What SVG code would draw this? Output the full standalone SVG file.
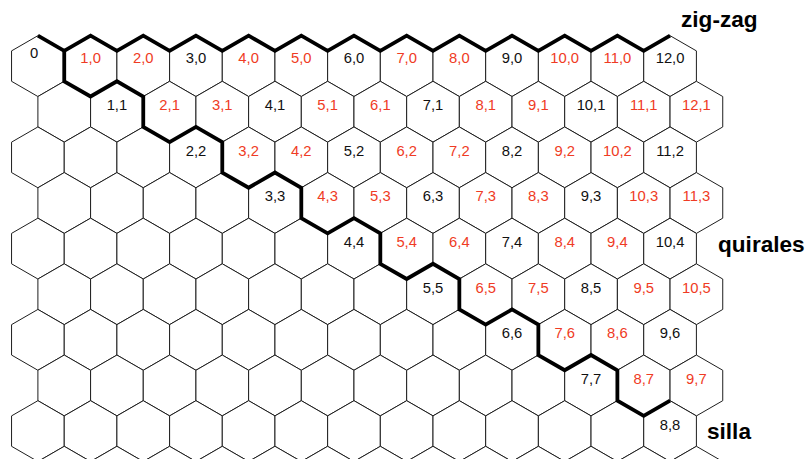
<svg xmlns="http://www.w3.org/2000/svg" xmlns:xlink="http://www.w3.org/1999/xlink" width="807" height="459" viewBox="0 0 807 459">
<style>
.hx{fill:#fff;stroke:#1e1e1e;stroke-width:1}
text{font-family:"Liberation Sans",Arial,sans-serif;font-size:14.8px;text-anchor:middle}
.k{fill:#111}
.r{fill:#ef3b24}
.t{font-size:22.6px;font-weight:bold;text-anchor:start;fill:#000}
.thick{fill:none;stroke:#000;stroke-width:3.8;stroke-linejoin:miter;stroke-linecap:butt}
</style>
<defs>
<polygon id="hx" class="hx" points="0,-30.42 26.34,-15.21 26.34,15.21 0,30.42 -26.34,15.21 -26.34,-15.21"/>
</defs>
<rect width="807" height="459" fill="#fff"/>
<g id="row0">
<g id="n0_0" transform="translate(37.9,66.1)"><use href="#hx"/><text class="k" x="-3.9" y="-7.8">0</text></g>
<g id="n1_0" transform="translate(90.58,66.1)"><use href="#hx"/><text class="r" y="-3">1,0</text></g>
<g id="n2_0" transform="translate(143.26,66.1)"><use href="#hx"/><text class="r" y="-3">2,0</text></g>
<g id="n3_0" transform="translate(195.94,66.1)"><use href="#hx"/><text class="k" y="-3">3,0</text></g>
<g id="n4_0" transform="translate(248.62,66.1)"><use href="#hx"/><text class="r" y="-3">4,0</text></g>
<g id="n5_0" transform="translate(301.3,66.1)"><use href="#hx"/><text class="r" y="-3">5,0</text></g>
<g id="n6_0" transform="translate(353.98,66.1)"><use href="#hx"/><text class="k" y="-3">6,0</text></g>
<g id="n7_0" transform="translate(406.66,66.1)"><use href="#hx"/><text class="r" y="-3">7,0</text></g>
<g id="n8_0" transform="translate(459.34,66.1)"><use href="#hx"/><text class="r" y="-3">8,0</text></g>
<g id="n9_0" transform="translate(512.02,66.1)"><use href="#hx"/><text class="k" y="-3">9,0</text></g>
<g id="n10_0" transform="translate(564.7,66.1)"><use href="#hx"/><text class="r" y="-3">10,0</text></g>
<g id="n11_0" transform="translate(617.38,66.1)"><use href="#hx"/><text class="r" y="-3">11,0</text></g>
<g id="n12_0" transform="translate(670.06,66.1)"><use href="#hx"/><text class="k" y="-3">12,0</text></g>
</g>
<g id="row1">
<g id="h1_0" transform="translate(64.24,111.73)"><use href="#hx"/></g>
<g id="n1_1" transform="translate(116.92,111.73)"><use href="#hx"/><text class="k" y="-1.5">1,1</text></g>
<g id="n2_1" transform="translate(169.6,111.73)"><use href="#hx"/><text class="r" y="-1.5">2,1</text></g>
<g id="n3_1" transform="translate(222.28,111.73)"><use href="#hx"/><text class="r" y="-1.5">3,1</text></g>
<g id="n4_1" transform="translate(274.96,111.73)"><use href="#hx"/><text class="k" y="-1.5">4,1</text></g>
<g id="n5_1" transform="translate(327.64,111.73)"><use href="#hx"/><text class="r" y="-1.5">5,1</text></g>
<g id="n6_1" transform="translate(380.32,111.73)"><use href="#hx"/><text class="r" y="-1.5">6,1</text></g>
<g id="n7_1" transform="translate(433,111.73)"><use href="#hx"/><text class="k" y="-1.5">7,1</text></g>
<g id="n8_1" transform="translate(485.68,111.73)"><use href="#hx"/><text class="r" y="-1.5">8,1</text></g>
<g id="n9_1" transform="translate(538.36,111.73)"><use href="#hx"/><text class="r" y="-1.5">9,1</text></g>
<g id="n10_1" transform="translate(591.04,111.73)"><use href="#hx"/><text class="k" y="-1.5">10,1</text></g>
<g id="n11_1" transform="translate(643.72,111.73)"><use href="#hx"/><text class="r" y="-1.5">11,1</text></g>
<g id="n12_1" transform="translate(696.4,111.73)"><use href="#hx"/><text class="r" y="-1.5">12,1</text></g>
</g>
<g id="row2">
<g id="h2_0" transform="translate(37.9,157.35)"><use href="#hx"/></g>
<g id="h2_1" transform="translate(90.58,157.35)"><use href="#hx"/></g>
<g id="h2_2" transform="translate(143.26,157.35)"><use href="#hx"/></g>
<g id="n2_2" transform="translate(195.94,157.35)"><use href="#hx"/><text class="k" y="-1.5">2,2</text></g>
<g id="n3_2" transform="translate(248.62,157.35)"><use href="#hx"/><text class="r" y="-1.5">3,2</text></g>
<g id="n4_2" transform="translate(301.3,157.35)"><use href="#hx"/><text class="r" y="-1.5">4,2</text></g>
<g id="n5_2" transform="translate(353.98,157.35)"><use href="#hx"/><text class="k" y="-1.5">5,2</text></g>
<g id="n6_2" transform="translate(406.66,157.35)"><use href="#hx"/><text class="r" y="-1.5">6,2</text></g>
<g id="n7_2" transform="translate(459.34,157.35)"><use href="#hx"/><text class="r" y="-1.5">7,2</text></g>
<g id="n8_2" transform="translate(512.02,157.35)"><use href="#hx"/><text class="k" y="-1.5">8,2</text></g>
<g id="n9_2" transform="translate(564.7,157.35)"><use href="#hx"/><text class="r" y="-1.5">9,2</text></g>
<g id="n10_2" transform="translate(617.38,157.35)"><use href="#hx"/><text class="r" y="-1.5">10,2</text></g>
<g id="n11_2" transform="translate(670.06,157.35)"><use href="#hx"/><text class="k" y="-1.5">11,2</text></g>
</g>
<g id="row3">
<g id="h3_0" transform="translate(64.24,202.98)"><use href="#hx"/></g>
<g id="h3_1" transform="translate(116.92,202.98)"><use href="#hx"/></g>
<g id="h3_2" transform="translate(169.6,202.98)"><use href="#hx"/></g>
<g id="h3_3" transform="translate(222.28,202.98)"><use href="#hx"/></g>
<g id="n3_3" transform="translate(274.96,202.98)"><use href="#hx"/><text class="k" y="-1.5">3,3</text></g>
<g id="n4_3" transform="translate(327.64,202.98)"><use href="#hx"/><text class="r" y="-1.5">4,3</text></g>
<g id="n5_3" transform="translate(380.32,202.98)"><use href="#hx"/><text class="r" y="-1.5">5,3</text></g>
<g id="n6_3" transform="translate(433,202.98)"><use href="#hx"/><text class="k" y="-1.5">6,3</text></g>
<g id="n7_3" transform="translate(485.68,202.98)"><use href="#hx"/><text class="r" y="-1.5">7,3</text></g>
<g id="n8_3" transform="translate(538.36,202.98)"><use href="#hx"/><text class="r" y="-1.5">8,3</text></g>
<g id="n9_3" transform="translate(591.04,202.98)"><use href="#hx"/><text class="k" y="-1.5">9,3</text></g>
<g id="n10_3" transform="translate(643.72,202.98)"><use href="#hx"/><text class="r" y="-1.5">10,3</text></g>
<g id="n11_3" transform="translate(696.4,202.98)"><use href="#hx"/><text class="r" y="-1.5">11,3</text></g>
</g>
<g id="row4">
<g id="h4_0" transform="translate(37.9,248.6)"><use href="#hx"/></g>
<g id="h4_1" transform="translate(90.58,248.6)"><use href="#hx"/></g>
<g id="h4_2" transform="translate(143.26,248.6)"><use href="#hx"/></g>
<g id="h4_3" transform="translate(195.94,248.6)"><use href="#hx"/></g>
<g id="h4_4" transform="translate(248.62,248.6)"><use href="#hx"/></g>
<g id="h4_5" transform="translate(301.3,248.6)"><use href="#hx"/></g>
<g id="n4_4" transform="translate(353.98,248.6)"><use href="#hx"/><text class="k" y="-1.5">4,4</text></g>
<g id="n5_4" transform="translate(406.66,248.6)"><use href="#hx"/><text class="r" y="-1.5">5,4</text></g>
<g id="n6_4" transform="translate(459.34,248.6)"><use href="#hx"/><text class="r" y="-1.5">6,4</text></g>
<g id="n7_4" transform="translate(512.02,248.6)"><use href="#hx"/><text class="k" y="-1.5">7,4</text></g>
<g id="n8_4" transform="translate(564.7,248.6)"><use href="#hx"/><text class="r" y="-1.5">8,4</text></g>
<g id="n9_4" transform="translate(617.38,248.6)"><use href="#hx"/><text class="r" y="-1.5">9,4</text></g>
<g id="n10_4" transform="translate(670.06,248.6)"><use href="#hx"/><text class="k" y="-1.5">10,4</text></g>
</g>
<g id="row5">
<g id="h5_0" transform="translate(64.24,294.23)"><use href="#hx"/></g>
<g id="h5_1" transform="translate(116.92,294.23)"><use href="#hx"/></g>
<g id="h5_2" transform="translate(169.6,294.23)"><use href="#hx"/></g>
<g id="h5_3" transform="translate(222.28,294.23)"><use href="#hx"/></g>
<g id="h5_4" transform="translate(274.96,294.23)"><use href="#hx"/></g>
<g id="h5_5" transform="translate(327.64,294.23)"><use href="#hx"/></g>
<g id="h5_6" transform="translate(380.32,294.23)"><use href="#hx"/></g>
<g id="n5_5" transform="translate(433,294.23)"><use href="#hx"/><text class="k" y="-1.5">5,5</text></g>
<g id="n6_5" transform="translate(485.68,294.23)"><use href="#hx"/><text class="r" y="-1.5">6,5</text></g>
<g id="n7_5" transform="translate(538.36,294.23)"><use href="#hx"/><text class="r" y="-1.5">7,5</text></g>
<g id="n8_5" transform="translate(591.04,294.23)"><use href="#hx"/><text class="k" y="-1.5">8,5</text></g>
<g id="n9_5" transform="translate(643.72,294.23)"><use href="#hx"/><text class="r" y="-1.5">9,5</text></g>
<g id="n10_5" transform="translate(696.4,294.23)"><use href="#hx"/><text class="r" y="-1.5">10,5</text></g>
</g>
<g id="row6">
<g id="h6_0" transform="translate(37.9,339.85)"><use href="#hx"/></g>
<g id="h6_1" transform="translate(90.58,339.85)"><use href="#hx"/></g>
<g id="h6_2" transform="translate(143.26,339.85)"><use href="#hx"/></g>
<g id="h6_3" transform="translate(195.94,339.85)"><use href="#hx"/></g>
<g id="h6_4" transform="translate(248.62,339.85)"><use href="#hx"/></g>
<g id="h6_5" transform="translate(301.3,339.85)"><use href="#hx"/></g>
<g id="h6_6" transform="translate(353.98,339.85)"><use href="#hx"/></g>
<g id="h6_7" transform="translate(406.66,339.85)"><use href="#hx"/></g>
<g id="h6_8" transform="translate(459.34,339.85)"><use href="#hx"/></g>
<g id="n6_6" transform="translate(512.02,339.85)"><use href="#hx"/><text class="k" y="-1.5">6,6</text></g>
<g id="n7_6" transform="translate(564.7,339.85)"><use href="#hx"/><text class="r" y="-1.5">7,6</text></g>
<g id="n8_6" transform="translate(617.38,339.85)"><use href="#hx"/><text class="r" y="-1.5">8,6</text></g>
<g id="n9_6" transform="translate(670.06,339.85)"><use href="#hx"/><text class="k" y="-1.5">9,6</text></g>
</g>
<g id="row7">
<g id="h7_0" transform="translate(64.24,385.48)"><use href="#hx"/></g>
<g id="h7_1" transform="translate(116.92,385.48)"><use href="#hx"/></g>
<g id="h7_2" transform="translate(169.6,385.48)"><use href="#hx"/></g>
<g id="h7_3" transform="translate(222.28,385.48)"><use href="#hx"/></g>
<g id="h7_4" transform="translate(274.96,385.48)"><use href="#hx"/></g>
<g id="h7_5" transform="translate(327.64,385.48)"><use href="#hx"/></g>
<g id="h7_6" transform="translate(380.32,385.48)"><use href="#hx"/></g>
<g id="h7_7" transform="translate(433,385.48)"><use href="#hx"/></g>
<g id="h7_8" transform="translate(485.68,385.48)"><use href="#hx"/></g>
<g id="h7_9" transform="translate(538.36,385.48)"><use href="#hx"/></g>
<g id="n7_7" transform="translate(591.04,385.48)"><use href="#hx"/><text class="k" y="-1.5">7,7</text></g>
<g id="n8_7" transform="translate(643.72,385.48)"><use href="#hx"/><text class="r" y="-1.5">8,7</text></g>
<g id="n9_7" transform="translate(696.4,385.48)"><use href="#hx"/><text class="r" y="-1.5">9,7</text></g>
</g>
<g id="row8">
<g id="h8_0" transform="translate(37.9,431.1)"><use href="#hx"/></g>
<g id="h8_1" transform="translate(90.58,431.1)"><use href="#hx"/></g>
<g id="h8_2" transform="translate(143.26,431.1)"><use href="#hx"/></g>
<g id="h8_3" transform="translate(195.94,431.1)"><use href="#hx"/></g>
<g id="h8_4" transform="translate(248.62,431.1)"><use href="#hx"/></g>
<g id="h8_5" transform="translate(301.3,431.1)"><use href="#hx"/></g>
<g id="h8_6" transform="translate(353.98,431.1)"><use href="#hx"/></g>
<g id="h8_7" transform="translate(406.66,431.1)"><use href="#hx"/></g>
<g id="h8_8" transform="translate(459.34,431.1)"><use href="#hx"/></g>
<g id="h8_9" transform="translate(512.02,431.1)"><use href="#hx"/></g>
<g id="h8_10" transform="translate(564.7,431.1)"><use href="#hx"/></g>
<g id="h8_11" transform="translate(617.38,431.1)"><use href="#hx"/></g>
<g id="n8_8" transform="translate(670.06,431.1)"><use href="#hx"/><text class="k" y="-1.5">8,8</text></g>
</g>
<g id="row9">
<g id="h9_0" transform="translate(64.24,476.73)"><use href="#hx"/></g>
<g id="h9_1" transform="translate(116.92,476.73)"><use href="#hx"/></g>
<g id="h9_2" transform="translate(169.6,476.73)"><use href="#hx"/></g>
<g id="h9_3" transform="translate(222.28,476.73)"><use href="#hx"/></g>
<g id="h9_4" transform="translate(274.96,476.73)"><use href="#hx"/></g>
<g id="h9_5" transform="translate(327.64,476.73)"><use href="#hx"/></g>
<g id="h9_6" transform="translate(380.32,476.73)"><use href="#hx"/></g>
<g id="h9_7" transform="translate(433,476.73)"><use href="#hx"/></g>
<g id="h9_8" transform="translate(485.68,476.73)"><use href="#hx"/></g>
<g id="h9_9" transform="translate(538.36,476.73)"><use href="#hx"/></g>
<g id="h9_10" transform="translate(591.04,476.73)"><use href="#hx"/></g>
<g id="h9_11" transform="translate(643.72,476.73)"><use href="#hx"/></g>
<g id="h9_12" transform="translate(696.4,476.73)"><use href="#hx"/></g>
</g>
<g id="connectors">
<path id="zigzag" class="thick" d="M37.9,35.68 L64.24,50.89 L90.58,35.68 L116.92,50.89 L143.26,35.68 L169.6,50.89 L195.94,35.68 L222.28,50.89 L248.62,35.68 L274.96,50.89 L301.3,35.68 L327.64,50.89 L353.98,35.68 L380.32,50.89 L406.66,35.68 L433,50.89 L459.34,35.68 L485.68,50.89 L512.02,35.68 L538.36,50.89 L564.7,35.68 L591.04,50.89 L617.38,35.68 L643.72,50.89 L670.06,35.68"/>
<path id="chiral" class="thick" d="M64.24,50.89 L64.24,81.31 L90.58,96.52 L116.92,81.31 L143.26,96.52 L143.26,126.94 L169.6,142.14 L195.94,126.93 L222.28,142.14 L222.28,172.56 L248.62,187.77 L274.96,172.56 L301.3,187.77 L301.3,218.19 L327.64,233.39 L353.98,218.18 L380.32,233.39 L380.32,263.81 L406.66,279.02 L433,263.81 L459.34,279.02 L459.34,309.44 L485.68,324.64 L512.02,309.43 L538.36,324.64 L538.36,355.06 L564.7,370.27 L591.04,355.06 L617.38,370.27 L617.38,400.69 L643.72,415.89 L670.06,400.68"/>
</g>
<g id="titles">
<text class="t" x="681" y="27">zig-zag</text>
<text class="t" x="718" y="251.5">quirales</text>
<text class="t" x="707" y="439">silla</text>
</g>
</svg>
